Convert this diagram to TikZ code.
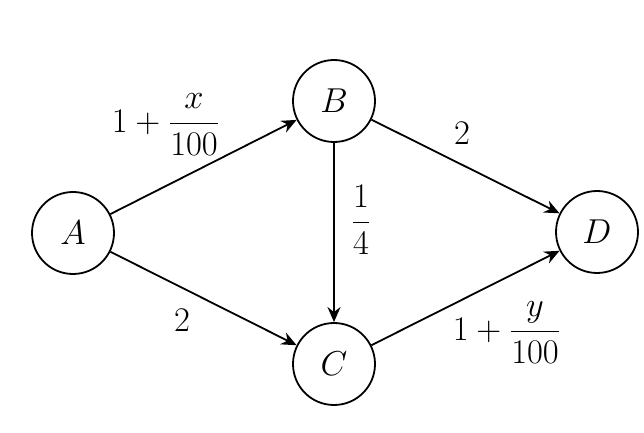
\documentclass[tikz,border=0pt]{standalone}
\usepackage{amsmath}
\usetikzlibrary{arrows.meta}
\begin{document}
\begin{tikzpicture}[x=0.5pt,y=-0.5pt,
  vert/.style={circle,draw,line width=0.9pt,minimum size=41pt,inner sep=0pt,font=\fontsize{16}{19}\selectfont},
  edge/.style={line width=0.9pt,-{Stealth[length=7.5pt,width=6.5pt]}},
  lab/.style={font=\fontsize{16}{19}\selectfont,inner sep=0pt}]
\useasboundingbox (0,0) rectangle (644,433);
\node[vert] (A) at (73,233) {$A$};
\node[vert] (B) at (334,101) {$B$};
\node[vert] (C) at (334,364) {$C$};
\node[vert] (D) at (597,232) {$D$};
\draw[edge] (A) -- (B);
\draw[edge] (A) -- (C);
\draw[edge] (B) -- (C);
\draw[edge] (B) -- (D);
\draw[edge] (C) -- (D);
\node[lab] (lab) at (166,125) {$1+\dfrac{x}{100}$};
\node[lab] (lac) at (182,320) {$2$};
\node[lab] (lbc) at (361,220) {$\dfrac{1}{4}$};
\node[lab] (lbd) at (462,133) {$2$};
\node[lab] (lcd) at (507,333) {$1+\dfrac{y}{100}$};
\end{tikzpicture}
\end{document}
